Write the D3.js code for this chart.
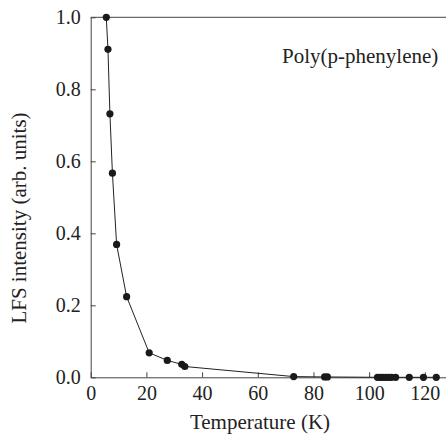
<!DOCTYPE html>
<html>
<head>
<meta charset="utf-8">
<script src="https://cdn.jsdelivr.net/npm/d3@7"></script>
<style>
  body { margin: 0; background: #fff; }
</style>
</head>
<body>
<div id="chart"></div>
<script>
// values
const temperature = [5.6, 6.2, 6.9, 7.8, 9.3, 12.9, 21.0, 27.5, 32.7, 33.8, 72.9, 84.0, 85.0,
  103.0, 104.0, 105.0, 106.0, 107.0, 108.0, 109.5, 114.4, 119.5, 124.1];
const intensity = [1.0, 0.911, 0.732, 0.567, 0.369, 0.224, 0.068, 0.047, 0.036, 0.030, 0.002, 0.001, 0.001,
  0, 0, 0, 0, 0, 0, 0, 0, 0, 0];
const xTicks = [0, 20, 40, 60, 80, 100, 120];
const yTicks = [0, 0.2, 0.4, 0.6, 0.8, 1.0];

const serif = "'Liberation Serif', 'Times New Roman', Times, 'DejaVu Serif', serif";
const margin = { top: 17.3, left: 90.7 };
const width = 362;
const height = 360;

const svg = d3.select('#chart')
  .append('svg')
  .attr('width', 446)
  .attr('height', 438)
  .append('g')
  .attr('transform', `translate(${margin.left},${margin.top})`);

const x = d3.scaleLinear().domain([0, 130]).range([0, width]);
const y = d3.scaleLinear().domain([0, 1]).range([height, 0]);

const xAxis = svg.append('g')
  .attr('transform', `translate(0,${height})`)
  .call(d3.axisBottom(x).tickValues(xTicks).tickFormat(d3.format('d'))
    .tickSizeInner(-5).tickSizeOuter(0).tickPadding(8.5));

const yAxis = svg.append('g')
  .call(d3.axisLeft(y).tickValues(yTicks).tickFormat(d3.format('.1f'))
    .tickSizeInner(-5).tickSizeOuter(0).tickPadding(10));

[xAxis, yAxis].forEach(a => {
  a.attr('font-family', null).attr('font-size', null);
  a.selectAll('path, line').attr('stroke', '#444');
  a.selectAll('text')
    .style('font-family', serif)
    .style('font-size', '20px')
    .attr('fill', '#222');
});

// top frame
svg.append('line')
  .attr('x1', 0).attr('x2', width)
  .attr('y1', 0).attr('y2', 0)
  .attr('stroke', '#444');

const pts = temperature.map((t, i) => [t, intensity[i]]);

svg.append('path')
  .datum(pts)
  .attr('fill', 'none')
  .attr('stroke', '#222')
  .attr('stroke-width', 1)
  .attr('d', d3.line().x(d => x(d[0])).y(d => y(d[1])));

svg.selectAll('circle')
  .data(pts)
  .enter().append('circle')
  .attr('cx', d => x(d[0]))
  .attr('cy', d => y(d[1]))
  .attr('r', 3.6)
  .attr('fill', '#1a1a1a');

function label(txt) {
  return svg.append('text')
    .style('font-family', serif)
    .style('font-size', '21px')
    .attr('fill', '#222')
    .text(txt);
}

label('Poly(p-phenylene)')
  .attr('x', 347.6)
  .attr('y', 63.3 - margin.top)
  .attr('text-anchor', 'end');

label('Temperature (K)')
  .attr('x', 260 - margin.left)
  .attr('y', 429 - margin.top)
  .attr('text-anchor', 'middle');

label('LFS intensity (arb. units)')
  .attr('transform', `translate(${26 - margin.left},${218 - margin.top}) rotate(-90)`)
  .attr('text-anchor', 'middle');
</script>
</body>
</html>
